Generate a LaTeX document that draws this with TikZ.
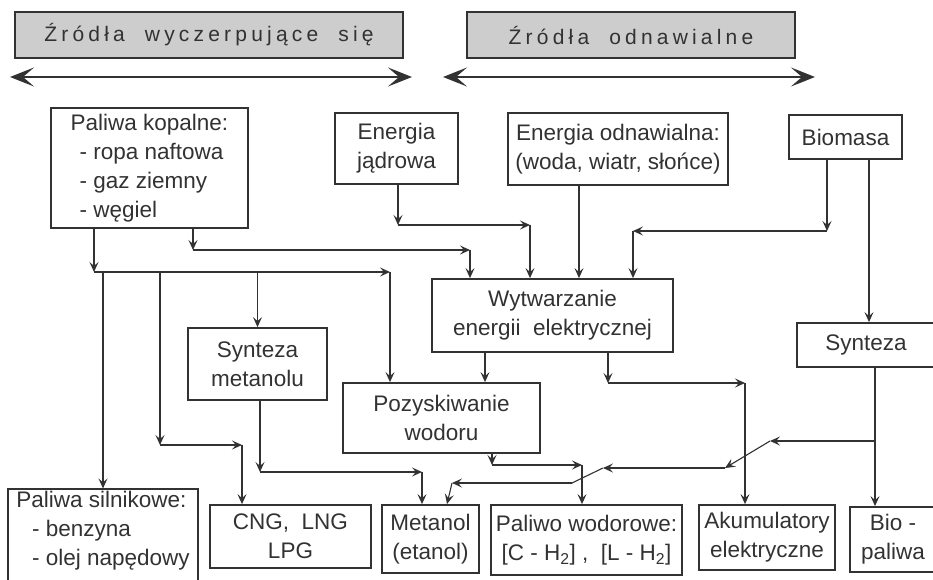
\documentclass[tikz,border=0pt]{standalone}
\usepackage{fontspec}
\setmainfont{Liberation Sans}
\newfontfamily\headfont[LetterSpace=20]{Liberation Sans}
\usepackage{tikz}
\usetikzlibrary{arrows.meta}
\definecolor{lgray}{RGB}{50, 50, 50}
\definecolor{hgray}{RGB}{205, 205, 205}

\begin{document}
\begin{tikzpicture}[x=1pt, y=-1pt,
    box/.style={draw=lgray, line width=1.8pt, align=center, inner sep=2pt,
      text=lgray, font=\fontsize{22.5}{29}\selectfont},
    head/.style={draw=lgray, line width=1.5pt, fill=hgray, minimum height=46pt,
      text=lgray, font=\headfont\fontsize{21}{24}\selectfont},
    arr/.style={draw=lgray, line width=1.1pt,
      -{Stealth[length=10pt, width=9pt, inset=4pt]}},
    link/.style={draw=lgray, line width=1.1pt},
    dbl/.style={draw=lgray, line width=2.6pt,
      {Stealth[length=24pt, width=19pt, inset=11pt]}-{Stealth[length=24pt, width=19pt, inset=11pt]}}]
        \clip (0,0) rectangle (933,580);
        % Headers
        \node[head, minimum width=388pt] (hdA) at (209,35) {Źródła\ \ wyczerpujące\ \ się};
        \node[head, minimum width=328pt] (hdB) at (631,35) {Źródła\ \ odnawialne};
        \coordinate (aL) at (10,77);
        \coordinate (aR) at (412,77);
        \coordinate (bL) at (443,77);
        \coordinate (bR) at (815,77);
        \draw[dbl] (aL) -- (aR);
        \draw[dbl] (bL) -- (bR);
        % Sources
        \node[box, minimum width=197pt, minimum height=120pt, align=left] (kop) at (149.5,168)
          {Paliwa kopalne:\\\hspace*{0.4em}- ropa naftowa\\\hspace*{0.4em}- gaz ziemny\\\hspace*{0.4em}- węgiel};
        \node[box, minimum width=123pt, minimum height=71pt] (jad) at (396.5,148.5) {Energia\\jądrowa};
        \node[box, minimum width=220pt, minimum height=72pt] (odn) at (618,149)
          {Energia odnawialna:\\(woda, wiatr, słońce)};
        \node[box, minimum width=113pt, minimum height=44pt] (bio) at (845.5,137) {Biomasa};
        % Processes
        \node[box, minimum width=241pt, minimum height=73pt] (wyt) at (552.5,315.5)
          {Wytwarzanie\\energii\ \ elektrycznej};
        \node[box, minimum width=139pt, minimum height=72pt] (syn) at (257.5,364) {Synteza\\metanolu};
        \node[box, minimum width=197pt, minimum height=70pt] (poz) at (441.5,418) {Pozyskiwanie\\wodoru};
        \node[box, minimum width=138pt, minimum height=44pt] (synb) at (866,345) {Synteza};
        % Fuels
        \node[box, minimum width=190pt, align=left] (sil) at (103,537)
          {Paliwa silnikowe:\\\hspace*{0.7em}- benzyna\\\hspace*{0.7em}- olej napędowy\\[-12pt]\mbox{}};
        \node[box, minimum width=161pt, minimum height=63pt] (cng) at (290.5,536.5) {CNG,\ \ LNG\\LPG};
        \node[box, minimum width=97pt, minimum height=68pt] (met) at (430.5,539) {Metanol\\(etanol)};
        \node[box, minimum width=191pt, minimum height=70pt] (wod) at (586.5,540)
          {Paliwo wodorowe:\\{[}C - H\textsubscript{2}{]} ,\ \ {[}L - H\textsubscript{2}{]}};
        \node[box, minimum width=136pt, minimum height=65pt] (aku) at (767,537.5) {Akumulatory\\elektryczne};
        \node[box, minimum width=86pt, minimum height=65pt] (biop) at (893,539.5) {Bio -\\paliwa};
        % Corners
        \coordinate (k1) at (94,272);
        \coordinate (k2) at (390,272);
        \coordinate (k3) at (160,445);
        \coordinate (k4) at (242,445);
        \coordinate (k5) at (193,250);
        \coordinate (k6) at (470,250);
        \coordinate (j1) at (398,225);
        \coordinate (j2) at (530,225);
        \coordinate (o1) at (579,230);
        \coordinate (b1) at (827,231);
        \coordinate (b2) at (633,231);
        \coordinate (b3) at (869,240);
        \coordinate (s1) at (875,441);
        \coordinate (s2) at (770,441);
        \coordinate (s3) at (725,468);
        \coordinate (s4) at (603,468);
        \coordinate (s5) at (572,483);
        \coordinate (s6) at (452,483);
        \coordinate (w1) at (485,370);
        \coordinate (w2) at (608,383);
        \coordinate (w3) at (745,383);
        \coordinate (p1) at (492,465);
        \coordinate (p2) at (582,465);
        \coordinate (m1) at (260,472);
        \coordinate (m2) at (422,472);
        % Fossil fuels
        \draw[arr] (kop.south -| k1) -- (k1);
        \draw[arr] (k1) -- (k2);
        \draw[arr] (k2) -- (k2 |- poz.north);
        \draw[arr] (k1 -| sil.north) -- (sil.north);
        \draw[arr] (k1 -| k3) -- (k3);
        \draw[arr] (k3) -- (k4);
        \draw[arr] (k4) -- (k4 |- cng.north);
        \draw[arr] (k1 -| syn.north) -- (syn.north);
        \draw[arr] (kop.south -| k5) -- (k5);
        \draw[arr] (k5) -- (k6);
        \draw[arr] (k6) -- (k6 |- wyt.north);
        % Nuclear and renewable
        \draw[arr] (jad.south -| j1) -- (j1);
        \draw[arr] (j1) -- (j2);
        \draw[arr] (j2) -- (j2 |- wyt.north);
        \draw[arr] (odn.south -| o1) -- (o1 |- wyt.north);
        % Biomass
        \draw[arr] (bio.south -| b1) -- (b1);
        \draw[arr] (b1) -- (b2);
        \draw[arr] (b2) -- (b2 |- wyt.north);
        \draw[arr] (bio.south -| b3) -- (b3 |- synb.north);
        \draw[arr] (synb.south -| s1) -- (s1 |- biop.north);
        \draw[arr] (s1) -- (s2);
        \draw[arr] (s2) -- (s3);
        \draw[arr] (s3) -- (s4);
        \draw[link] (s4) -- (s5);
        \draw[arr] (s5) -- (s6);
        \draw[arr] (s6) -- ([xshift=16.5pt]met.north);
        % Electricity
        \draw[arr] (wyt.south -| w1) -- (w1 |- poz.north);
        \draw[arr] (wyt.south -| w2) -- (w2);
        \draw[arr] (w2) -- (w3);
        \draw[arr] (w3) -- (w3 |- aku.north);
        % Hydrogen and methanol
        \draw[arr] (poz.south -| p1) -- (p1);
        \draw[arr] (p1) -- (p2);
        \draw[arr] (p2) -- (p2 |- wod.north);
        \draw[arr] (syn.south -| m1) -- (m1);
        \draw[arr] (m1) -- (m2);
        \draw[arr] (m2) -- (m2 |- met.north);
      \end{tikzpicture}
\end{document}
